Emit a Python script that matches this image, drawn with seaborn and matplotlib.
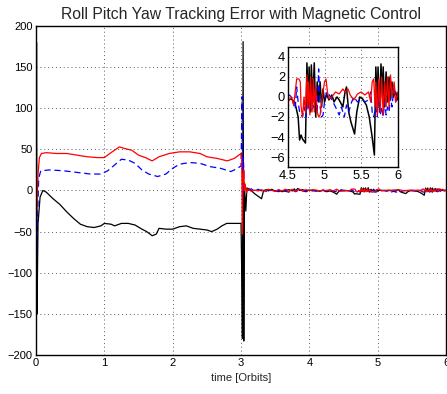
import matplotlib
matplotlib.use("Agg")
import matplotlib.pyplot as plt
import seaborn as sns

sns.set_style("white")
plt.rcParams['font.family'] = ['Liberation Sans', 'DejaVu Sans']

# ---------------- data ----------------
roll_t = [0.0, 0.008, 0.015, 0.03, 0.06, 0.10, 0.15, 0.25, 0.35, 0.45, 0.55, 0.65, 0.75, 0.85,
          0.95, 1.0, 1.1, 1.15, 1.25, 1.35, 1.45, 1.55, 1.62, 1.70, 1.76, 1.80, 1.90, 2.0,
          2.1, 2.2, 2.3, 2.4, 2.5, 2.57, 2.65, 2.72, 2.79, 2.9, 3.0, 3.01, 3.02, 3.03, 3.04,
          3.05, 3.07, 3.085, 3.12, 3.2, 3.3, 3.33, 3.37, 3.4, 3.45, 3.5, 3.55, 3.6, 3.65,
          3.7, 3.75, 3.78, 3.8, 3.83, 3.86, 3.9, 3.95, 4.0, 4.05, 4.1, 4.15, 4.2, 4.25, 4.3,
          4.35, 4.4, 4.43, 4.47,
          4.5, 4.55, 4.59, 4.61, 4.64, 4.66, 4.68, 4.70, 4.74, 4.76, 4.78, 4.79, 4.81, 4.82,
          4.84, 4.86, 4.88, 4.90, 4.92, 4.94, 4.96, 4.98, 5.0, 5.03, 5.06, 5.10, 5.13, 5.17,
          5.20, 5.25, 5.28, 5.30, 5.33, 5.36, 5.41, 5.44, 5.48, 5.52, 5.57, 5.61, 5.65, 5.68,
          5.70, 5.72, 5.73, 5.75, 5.77, 5.79, 5.80, 5.82, 5.84, 5.86, 5.88, 5.90, 5.92, 5.94,
          5.97, 6.0]
roll_v = [-195, 180, -150, -40, -8, 0, -2, -10, -17, -26, -34, -41, -44, -45,
          -43, -40, -41, -43, -40, -40, -42, -47, -50, -55, -53, -46, -47, -47,
          -44, -43, -46, -47, -48, -50, -47, -43, -40, -40, -40, -100, -180, 181, -183,
          5, -25, 3, 2, -4, -10, 0, 1, -0.5, 1.5, -1, 0.5, -1.5, 0,
          1, -0.5, 2, -0.5, 2.5, 0, 1, -0.5, 0.5, -0.5, 0, -1, 0.5, -1.5, -0.5,
          -2, -4.5, -1, 0.5,
          -0.3, -0.2, -0.5, -1, -2, -4.3, -3.8, -4.2, -4.6, 3.4, -1, 3, -1.5, 3.2,
          -0.5, 3.4, -2, 1.5, -0.5, 1.5, -1, 0.8, -0.5, 0.3, -0.3, 0.2, -0.5, 0,
          -0.3, -1, 0.5, 1, -1.5, -2.5, -3.7, -1.5, 0, -0.2, -0.8, -2, -4, -5.8,
          3, -1, 3, -1.5, 3.3, 0, 3, -1, 2.5, -0.5, 2, -0.3, 1.5, 0,
          0.5, -0.3]

pitch_t = [0.0, 0.005, 0.02, 0.04, 0.07, 0.2, 0.4, 0.6, 0.8, 0.95, 1.05, 1.15, 1.25, 1.35,
           1.45, 1.55, 1.65, 1.78, 1.9, 2.0, 2.1, 2.25, 2.4, 2.55, 2.7, 2.85, 2.95, 3.0,
           3.015, 3.025, 3.035, 3.045, 3.06, 3.1, 3.15, 3.2, 3.25, 3.3, 3.35, 3.4, 3.45,
           3.5, 3.55, 3.6, 3.65, 3.7, 3.75, 3.8, 3.85, 3.9, 3.95, 4.0, 4.05, 4.1, 4.15, 4.2,
           4.25, 4.3, 4.35, 4.4, 4.45,
           4.5, 4.55, 4.58, 4.60, 4.62, 4.64, 4.66, 4.70, 4.72, 4.75, 4.77, 4.80, 4.85, 4.88,
           4.90, 4.92, 4.94, 4.96, 4.98, 5.0, 5.03, 5.06, 5.10, 5.15, 5.20, 5.23, 5.27, 5.30,
           5.33, 5.37, 5.40, 5.45, 5.50, 5.55, 5.60, 5.63, 5.65, 5.67, 5.70, 5.72, 5.74, 5.76,
           5.78, 5.80, 5.82, 5.84, 5.86, 5.88, 5.90, 5.92, 5.95, 5.97, 6.0]
pitch_v = [10, -90, -40, 15, 24, 25, 24, 22, 20, 20, 24, 31, 38, 37,
           33, 25, 20, 17, 20, 27, 32, 34, 33, 29, 27, 23, 27, 30,
           114, -10, 40, 5, 2, 0, 2, -1, 1.5, -0.5, -2, 1, -1,
           0, -1.5, 0.5, -1, -2, 0.5, -1.5, 1, -0.5, -1.5, -0.5, 0.5, -1, -0.5, 0,
           -1, 0.5, -1, -1.5, 0.5,
           0.3, 0, -0.8, -1.2, 1, -0.5, -1.5, -2, -1, -2, -0.5, -1.5, -1, 0,
           -1.5, 2.8, -1, -2, -1.8, -0.5, 0.5, 0.3, -0.3, -1, -1.8, -1, -2, -0.8,
           -1.5, -0.5, 0, -0.5, -0.2, -0.5, -0.3, 0.5, -1.5, -2, -1, -2, 0.5, -1.8,
           -1, -2, -0.5, -1.8, -1, -1.5, 0, -1, 1.2, -0.5, 0.3]

yaw_t = [0.0, 0.003, 0.01, 0.03, 0.05, 0.08, 0.15, 0.3, 0.45, 0.6, 0.75, 0.9, 1.0, 1.08,
         1.15, 1.22, 1.3, 1.4, 1.5, 1.6, 1.7, 1.8, 1.95, 2.1, 2.25, 2.4, 2.5, 2.65, 2.8,
         2.9, 3.0, 3.01, 3.015, 3.02, 3.025, 3.03, 3.04, 3.05, 3.06, 3.08, 3.1, 3.15, 3.2,
         3.25, 3.3, 3.35, 3.4, 3.45, 3.5, 3.55, 3.6, 3.65, 3.7, 3.75, 3.8, 3.85, 3.9, 3.95,
         4.0, 4.05, 4.1, 4.15, 4.2, 4.25, 4.3, 4.35, 4.4, 4.45,
         4.5, 4.55, 4.58, 4.60, 4.62, 4.65, 4.67, 4.68, 4.70, 4.72, 4.74, 4.76, 4.77, 4.78,
         4.80, 4.81, 4.83, 4.85, 4.86, 4.88, 4.90, 4.92, 4.94, 4.96, 5.0, 5.02, 5.04, 5.06,
         5.10, 5.15, 5.20, 5.25, 5.28, 5.32, 5.35, 5.40, 5.45, 5.50, 5.55, 5.60, 5.63, 5.65,
         5.67, 5.69, 5.70, 5.72, 5.74, 5.76, 5.78, 5.80, 5.82, 5.84, 5.86, 5.88, 5.90, 5.92,
         5.95, 5.97, 6.0]
yaw_v = [0, 60, -30, 20, 40, 45, 46, 45, 45, 43, 41, 40, 40, 45,
         49, 53, 51, 49, 43, 40, 36, 41, 45, 47, 47, 45, 41, 39, 36,
         39, 45, 40, -10, -53, 20, 10, 25, 0, 8, -3, 2, -1, 0.5,
         -0.5, 1, -1, 1.5, 0, -1, 1, -0.5, 1.5, -1.5, 1.5, -1, 1.8, -0.5, 1,
         0, 1, 0.5, -0.5, 0.5, 0, 1, -0.5, 1.5, -1,
         -0.5, 0, -0.8, 0.5, 1.8, 1.8, 1.5, -1, -2, 0, -1.5, 2.2, -1, 1.5,
         -1.8, 2, -1.5, 1.8, -1.5, 1, -1.5, -2, -1.8, -0.5, 1.5, 1.8, 0.5, -0.2,
         0, 0.5, 0.3, 0.8, 0.5, 0.8, 0.2, -0.3, 0.3, 0.5, 0.2, 0.5, -0.5, 1.5,
         1.8, -1, 1.5, -1.8, 1.8, -1.5, 2, -1.8, 1.5, -1, 2, -1, 2.2, 0,
         1.5, -0.5, 0.5]

x_ticks = [0, 1, 2, 3, 4, 5, 6]
y_ticks = [-200, -150, -100, -50, 0, 50, 100, 150, 200]
inset_x_ticks = [4.5, 5, 5.5, 6]
inset_x_labels = ['4.5', '5', '5.5', '6']
inset_y_ticks = [-6, -4, -2, 0, 2, 4]

# ---------------- figure ----------------
fig = plt.figure(figsize=(4.47, 3.94), dpi=100)
ax = fig.add_axes([0.0805, 0.099, 0.9175, 0.835])


def draw(a, lw_k, lw):
    sns.lineplot(x=roll_t, y=roll_v, ax=a, color='black', lw=lw_k,
                 estimator=None, sort=False)
    sns.lineplot(x=pitch_t, y=pitch_v, ax=a, color='blue', lw=lw,
                 estimator=None, sort=False, linestyle=(0, (5, 3)))
    sns.lineplot(x=yaw_t, y=yaw_v, ax=a, color='red', lw=lw,
                 estimator=None, sort=False)


draw(ax, 0.9, 0.9)
ax.set_xlim(0, 6)
ax.set_ylim(-200, 200)
ax.set_xticks(x_ticks)
ax.set_yticks(y_ticks)
ax.grid(True, linestyle=(0, (1, 3)), color='0.35', lw=0.7)
ax.tick_params(direction='in', length=3, labelsize=8, colors='black', pad=2.5)
ax.set_xlabel('time [Orbits]', fontsize=8, labelpad=3)
ax.set_ylabel('')
ax.set_title('Roll Pitch Yaw Tracking Error with Magnetic Control', fontsize=11.3, pad=5)
for s in ax.spines.values():
    s.set_color('black')
    s.set_linewidth(1.0)

# inset
ins = fig.add_axes([0.644, 0.576, 0.246, 0.305])
draw(ins, 1.1, 0.9)
ins.set_xlim(4.5, 6)
ins.set_ylim(-7, 5)
ins.set_xticks(inset_x_ticks)
ins.set_xticklabels(inset_x_labels)
ins.set_yticks(inset_y_ticks)
ins.grid(True, linestyle=(0, (1, 3)), color='0.35', lw=0.7)
ins.tick_params(direction='in', length=3, labelsize=9.3, colors='black', pad=2)
ins.set_xlabel('')
ins.set_ylabel('')
ins.set_facecolor('white')
for s in ins.spines.values():
    s.set_color('black')
    s.set_linewidth(1.0)

fig.savefig('out.png', dpi=100)
